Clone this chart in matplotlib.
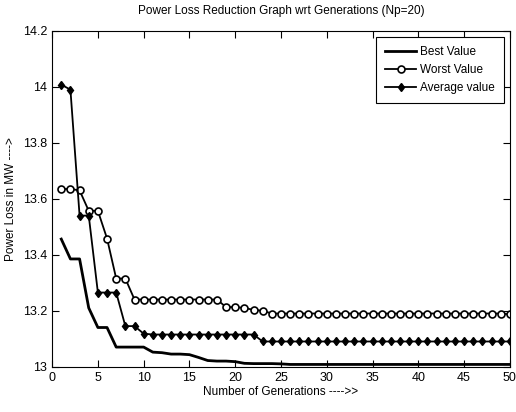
import matplotlib
matplotlib.use('Agg')
import matplotlib.pyplot as plt

plt.rcParams['font.family'] = ['Liberation Sans Narrow', 'Liberation Sans', 'DejaVu Sans']

generations = list(range(1, 51))

best_value = [13.456, 13.385, 13.385, 13.21, 13.14, 13.14, 13.07, 13.07, 13.07, 13.07,
              13.052, 13.05, 13.045, 13.045, 13.043, 13.033, 13.022, 13.02, 13.02, 13.018,
              13.012, 13.011, 13.011, 13.011, 13.01] + [13.008] * 25

worst_value = [13.635, 13.635, 13.63, 13.557, 13.557, 13.458, 13.315, 13.315, 13.24, 13.24,
               13.24, 13.24, 13.24, 13.24, 13.24, 13.24, 13.24, 13.24, 13.213, 13.213,
               13.21, 13.203, 13.2] + [13.19] * 26 + [13.187]

average_value = [14.008, 13.99, 13.54, 13.54, 13.265, 13.265, 13.265, 13.145, 13.145, 13.118] \
    + [13.115] * 12 + [13.09] * 28

fig = plt.figure(figsize=(5.16, 4.12), dpi=100)
ax = fig.add_axes([0.101, 0.11, 0.887, 0.815])

ax.plot(generations, best_value, color='black', lw=2, label='Best Value')
ax.plot(generations, worst_value, color='black', lw=1.3, marker='o', ms=5,
        mfc='white', mew=1.2, label='Worst Value')
ax.plot(generations, average_value, color='black', lw=1.3, marker='d', ms=4.5,
        mfc='black', label='Average value')

ax.set_xlim(0, 50)
ax.set_ylim(13, 14.2)
ax.set_xticks(range(0, 51, 5))
ax.set_yticks([13, 13.2, 13.4, 13.6, 13.8, 14, 14.2])
ax.set_yticklabels(['13', '13.2', '13.4', '13.6', '13.8', '14', '14.2'])
ax.tick_params(direction='in', top=True, right=True, labelsize=9, length=5)

ax.set_title('Power Loss Reduction Graph wrt Generations (Np=20)', fontsize=8.5, pad=12)
ax.set_xlabel('Number of Generations ---->>', fontsize=8.5, labelpad=2)
ax.set_ylabel('Power Loss in MW ---->', fontsize=8.5)

leg = ax.legend(loc='upper right', fontsize=8.5, fancybox=False, edgecolor='black',
                framealpha=1, handlelength=2.6, handletextpad=0.3, borderpad=0.8,
                borderaxespad=0.5)
leg.get_frame().set_linewidth(0.8)

fig.savefig('out.png', dpi=100)
